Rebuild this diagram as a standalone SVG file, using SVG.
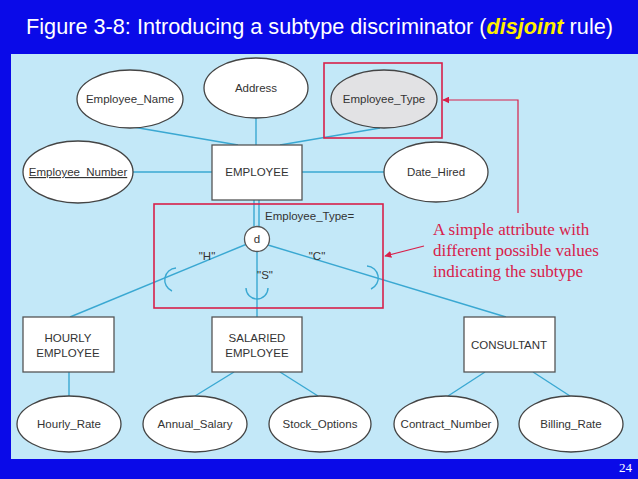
<svg xmlns="http://www.w3.org/2000/svg" width="638" height="479" viewBox="0 0 638 479">
<defs>
<style>
.ent{fill:#fff;stroke:#555;stroke-width:1.3}
.att{fill:#fff;stroke:#444;stroke-width:1.3}
.t{font-family:"Liberation Sans",Arial,sans-serif;font-size:11.5px;fill:#333;text-anchor:middle}
.c{stroke:#3aa8d2;stroke-width:1.4;fill:none}
.red{stroke:#d8204a;stroke-width:1.6;fill:none}
.note{font-family:"Liberation Serif","Times New Roman",serif;font-size:17px;fill:#d8204a}
</style>
<marker id="ah" viewBox="0 0 10 10" refX="9" refY="5" markerWidth="7" markerHeight="7" orient="auto" markerUnits="userSpaceOnUse">
<path d="M0,0 L10,5 L0,10 z" fill="#d8204a"/>
</marker>
</defs>
<rect x="0" y="0" width="638" height="479" fill="#0a0ae8"/>
<rect x="11" y="54" width="627" height="405" fill="#c3e8f8"/>
<text x="26" y="34" font-family="Liberation Sans,Arial,sans-serif" font-size="21.7" fill="#fff">Figure 3-8: Introducing a subtype discriminator (<tspan fill="#ffee00" font-weight="bold" font-style="italic">disjoint</tspan> rule)</text>
<text x="632" y="472" font-family="Liberation Serif,serif" font-size="13" fill="#fff" text-anchor="end">24</text>

<g id="connectors">
<line class="c" x1="133" y1="127" x2="238" y2="145"/>
<line class="c" x1="256" y1="118" x2="256" y2="145"/>
<line class="c" x1="380" y1="128" x2="280" y2="145"/>
<line class="c" x1="133" y1="172" x2="212" y2="172"/>
<line class="c" x1="302" y1="172" x2="384" y2="172"/>
<line class="c" x1="254" y1="200" x2="254" y2="226"/>
<line class="c" x1="259" y1="200" x2="259" y2="226"/>
<line class="c" x1="247" y1="244" x2="70" y2="317"/>
<line class="c" x1="257" y1="252" x2="257" y2="317"/>
<line class="c" x1="268" y1="245" x2="506" y2="317"/>
<path class="c" d="M176,268 A12,12 0 0 0 172,291"/>
<path class="c" d="M246,288 A11,11 0 0 0 268,288"/>
<path class="c" d="M367,266 A12,12 0 0 1 371,289"/>
<line class="c" x1="69" y1="372" x2="69" y2="396"/>
<line class="c" x1="234" y1="372" x2="195" y2="396"/>
<line class="c" x1="280" y1="372" x2="318" y2="396"/>
<line class="c" x1="485" y1="372" x2="448" y2="396"/>
<line class="c" x1="533" y1="372" x2="570" y2="396"/>
</g>

<g id="employee_name"><ellipse class="att" cx="130" cy="99" rx="53" ry="29"/><text class="t" x="130" y="103">Employee_Name</text></g>
<g id="address"><ellipse class="att" cx="256" cy="88" rx="52" ry="30"/><text class="t" x="256" y="92">Address</text></g>
<g id="employee_type"><ellipse class="att" cx="384" cy="99" rx="53" ry="29" style="fill:#e2e2e4"/><text class="t" x="384" y="103">Employee_Type</text></g>
<g id="employee_number"><ellipse class="att" cx="78" cy="172" rx="55" ry="31"/><text class="t" x="78" y="176" text-decoration="underline">Employee_Number</text></g>
<g id="date_hired"><ellipse class="att" cx="436" cy="172" rx="52" ry="30"/><text class="t" x="436" y="176">Date_Hired</text></g>
<g id="employee"><rect class="ent" x="212" y="145" width="90" height="55"/><text class="t" x="257" y="176">EMPLOYEE</text></g>
<g id="discriminator"><circle cx="257" cy="239" r="12.5" fill="#fff" stroke="#555" stroke-width="1.3"/><text class="t" x="257" y="243">d</text></g>
<text class="t" x="265" y="220" style="text-anchor:start">Employee_Type=</text>
<text class="t" x="207" y="260">"H"</text>
<text class="t" x="265" y="279">"S"</text>
<text class="t" x="317" y="260">"C"</text>
<g id="hourly_employee"><rect class="ent" x="23" y="317" width="91" height="55"/><text class="t" x="68" y="342">HOURLY</text><text class="t" x="68" y="357">EMPLOYEE</text></g>
<g id="salaried_employee"><rect class="ent" x="212" y="317" width="90" height="55"/><text class="t" x="257" y="342">SALARIED</text><text class="t" x="257" y="357">EMPLOYEE</text></g>
<g id="consultant"><rect class="ent" x="464" y="317" width="91" height="55"/><text class="t" x="509" y="349">CONSULTANT</text></g>
<g id="hourly_rate"><ellipse class="att" cx="69" cy="424" rx="52" ry="28"/><text class="t" x="69" y="428">Hourly_Rate</text></g>
<g id="annual_salary"><ellipse class="att" cx="195" cy="424" rx="52" ry="28"/><text class="t" x="195" y="428">Annual_Salary</text></g>
<g id="stock_options"><ellipse class="att" cx="320" cy="424" rx="51" ry="28"/><text class="t" x="320" y="428">Stock_Options</text></g>
<g id="contract_number"><ellipse class="att" cx="446" cy="424" rx="52" ry="28"/><text class="t" x="446" y="428">Contract_Number</text></g>
<g id="billing_rate"><ellipse class="att" cx="571" cy="424" rx="52" ry="28"/><text class="t" x="571" y="428">Billing_Rate</text></g>

<g id="annotation">
<rect class="red" x="324" y="63" width="118" height="75"/>
<rect class="red" x="154" y="204" width="229" height="104"/>
<polyline class="red" points="518,213 518,100 443,100" marker-end="url(#ah)" style="stroke-width:1.2"/>
<line class="red" x1="424" y1="246" x2="385" y2="256" marker-end="url(#ah)" style="stroke-width:1.2"/>
<text class="note" x="433" y="235">A simple attribute with</text>
<text class="note" x="433" y="256">different possible values</text>
<text class="note" x="433" y="277">indicating the subtype</text>
</g>
</svg>
